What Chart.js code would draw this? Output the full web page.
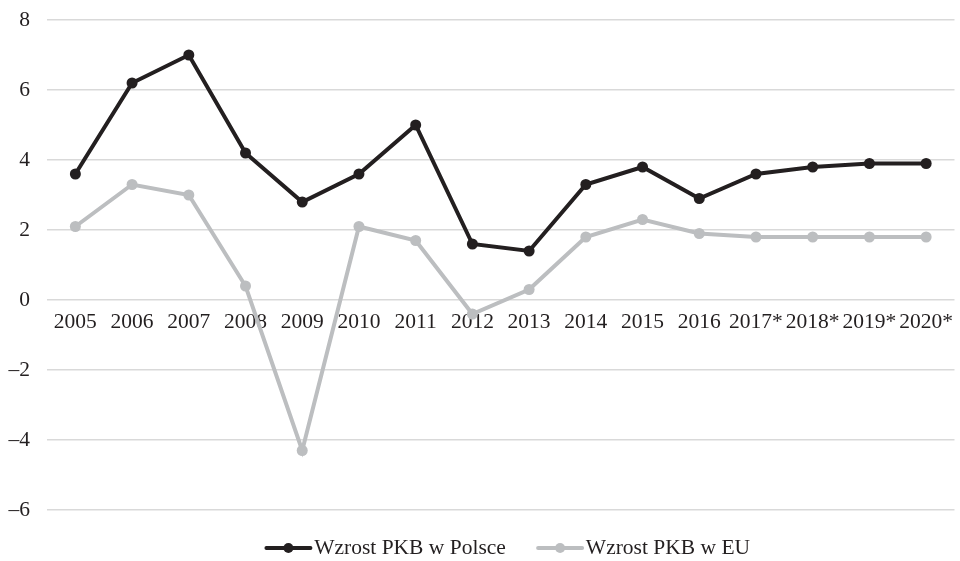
<!DOCTYPE html>
<html>
<head>
<meta charset="utf-8">
<script src="https://cdn.jsdelivr.net/npm/chart.js"></script>
<style>
html,body{margin:0;padding:0;background:#fff;}
#wrap{width:960px;height:561px;position:relative;}
</style>
</head>
<body>
<div id="wrap"><canvas id="c" width="960" height="561"></canvas></div>
<script>
const categories = ['2005','2006','2007','2008','2009','2010','2011','2012','2013','2014','2015','2016','2017*','2018*','2019*','2020*'];
const polandGrowth = [3.6, 6.2, 7.0, 4.2, 2.8, 3.6, 5.0, 1.6, 1.4, 3.3, 3.8, 2.9, 3.6, 3.8, 3.9, 3.9];
const euGrowth = [2.1, 3.3, 3.0, 0.4, -4.3, 2.1, 1.7, -0.4, 0.3, 1.8, 2.3, 1.9, 1.8, 1.8, 1.8, 1.8];
const seriesNames = ['Wzrost PKB w Polsce', 'Wzrost PKB w EU'];
const yMin = -6, yMax = 8, yStep = 2;

const BLACK = '#231f20';
const GRAY = '#bcbec0';
const FONT = "'Liberation Serif', 'DejaVu Serif', serif";

const legendLinePlugin = {
  id: 'legendLine',
  afterLayout(chart) {
    const lg = chart.legend;
    if (lg) { lg.left += 5; lg.right += 5; }
  },
  afterDraw(chart) {
    const lg = chart.legend;
    if (!lg || !lg.legendHitBoxes) return;
    const ctx = chart.ctx;
    const colors = [BLACK, GRAY];
    lg.legendHitBoxes.forEach((hb, i) => {
      const y = hb.top + hb.height / 2;
      const x0 = hb.left + 5;
      const x1 = hb.left + 49;
      ctx.save();
      ctx.strokeStyle = colors[i];
      ctx.lineWidth = 4;
      ctx.lineCap = 'round';
      ctx.beginPath();
      ctx.moveTo(x0, y);
      ctx.lineTo(x1, y);
      ctx.stroke();
      ctx.fillStyle = colors[i];
      ctx.beginPath();
      ctx.arc((x0 + x1) / 2, y, 5, 0, Math.PI * 2);
      ctx.fill();
      ctx.restore();
    });
  }
};

new Chart(document.getElementById('c'), {
  type: 'line',
  data: {
    labels: categories,
    datasets: [
      {
        label: seriesNames[0],
        data: polandGrowth,
        borderColor: BLACK,
        backgroundColor: BLACK,
        borderWidth: 4,
        pointRadius: 5.5,
        pointBackgroundColor: BLACK,
        pointBorderWidth: 0,
        tension: 0,
        order: 1
      },
      {
        label: seriesNames[1],
        data: euGrowth,
        borderColor: GRAY,
        backgroundColor: GRAY,
        borderWidth: 4,
        pointRadius: 5.5,
        pointBackgroundColor: GRAY,
        pointBorderWidth: 0,
        tension: 0,
        order: 2
      }
    ]
  },
  options: {
    responsive: false,
    animation: false,
    devicePixelRatio: 1,
    layout: { padding: { top: 20, right: 0, left: 0, bottom: -7.75 } },
    scales: {
      x: {
        position: { y: 0 },
        offset: true,
        grid: { display: false },
        border: { display: false },
        ticks: {
          color: BLACK,
          font: { family: FONT, size: 21.5 },
          padding: 1,
          maxRotation: 0,
          autoSkip: false
        }
      },
      y: {
        min: yMin,
        max: yMax,
        ticks: {
          stepSize: yStep,
          color: BLACK,
          font: { family: FONT, size: 21.5 },
          padding: 17,
          callback: (v) => String(v).replace('-', '\u2013')
        },
        grid: { color: '#d9d9d9', lineWidth: 1.5, drawTicks: false },
        border: { display: false },
        afterFit: (s) => { s.width = 47; s.paddingTop = 0; s.paddingBottom = 0; }
      }
    },
    plugins: {
      legend: {
        position: 'bottom',
        fullSize: false,
        labels: {
          color: BLACK,
          font: { family: FONT, size: 21.5 },
          boxWidth: 42,
          boxHeight: 4,
          padding: 27.25,
          generateLabels: (chart) => chart.data.datasets.map((d, i) => ({
            text: d.label,
            fillStyle: 'rgba(0,0,0,0)',
            strokeStyle: 'rgba(0,0,0,0)',
            lineWidth: 0,
            fontColor: BLACK,
            datasetIndex: i,
            hidden: false
          }))
        }
      },
      tooltip: { enabled: false }
    }
  },
  plugins: [legendLinePlugin]
});
</script>
</body>
</html>
